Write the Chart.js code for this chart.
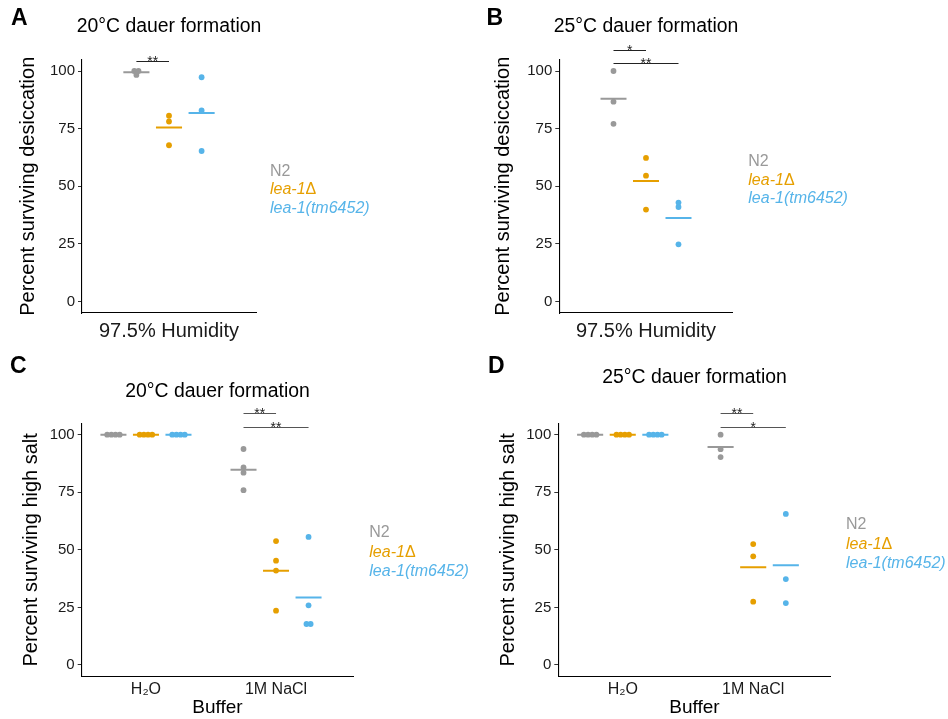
<!DOCTYPE html>
<html>
<head>
<meta charset="utf-8">
<script src="https://cdn.jsdelivr.net/npm/chart.js@4"></script>
<style>
html,body{margin:0;padding:0;background:#fff;width:948px;height:719px;overflow:hidden;position:relative}
canvas{position:absolute}
</style>
</head>
<body>
<canvas id="cA" width="474" height="350" style="left:0;top:0"></canvas>
<canvas id="cB" width="474" height="350" style="left:474px;top:0"></canvas>
<canvas id="cC" width="474" height="364" style="left:0;top:355px"></canvas>
<canvas id="cD" width="474" height="364" style="left:474px;top:355px"></canvas>
<script>
// ---------------- DATA ----------------
const genotypes = ['N2', 'lea-1Δ', 'lea-1(tm6452)'];
const humidityConditions = ['97.5% Humidity'];
const bufferConditions = ['H₂O', '1M NaCl'];
const yTickValues = [0, 25, 50, 75, 100];

// A: 20°C dauer formation, desiccation (97.5% humidity)
const desic20_N2 = [100, 100, 98.3];
const desic20_lea1del = [80.6, 78.1, 67.8];
const desic20_tm6452 = [97.3, 82.9, 65.3];

// B: 25°C dauer formation, desiccation (97.5% humidity)
const desic25_N2 = [100, 86.7, 77.1];
const desic25_lea1del = [62.3, 54.6, 39.9];
const desic25_tm6452 = [42.9, 41.0, 24.8];

// C: 20°C dauer formation, high salt
const salt20_N2_H2O = [100, 100, 100, 100];
const salt20_N2_NaCl = [93.8, 85.8, 83.5, 75.9];
const salt20_lea1del_H2O = [100, 100, 100, 100];
const salt20_lea1del_NaCl = [53.8, 45.3, 41.0, 23.6];
const salt20_tm6452_H2O = [100, 100, 100, 100];
const salt20_tm6452_NaCl = [55.6, 25.9, 17.8, 17.8];

// D: 25°C dauer formation, high salt
const salt25_N2_H2O = [100, 100, 100, 100];
const salt25_N2_NaCl = [100, 93.7, 90.3];
const salt25_lea1del_H2O = [100, 100, 100, 100];
const salt25_lea1del_NaCl = [52.5, 47.2, 27.5];
const salt25_tm6452_H2O = [100, 100, 100, 100];
const salt25_tm6452_NaCl = [65.6, 37.3, 26.9];

// significance comparisons: [group a, group b, condition index, label]
const sigA = [[0, 1, 0, '**']];
const sigB = [[0, 1, 0, '*'], [0, 2, 0, '**']];
const sigC = [[0, 1, 1, '**'], [0, 2, 1, '**']];
const sigD = [[0, 1, 1, '**'], [0, 2, 1, '*']];

// ---------------- STYLE ----------------
const FONT = "'Liberation Sans', Arial, Helvetica, sans-serif";
Chart.defaults.font.family = FONT;
const COLORS = ['#999999', '#E69F00', '#56B4E9'];
const DODGE = [-0.25, 0, 0.25];
const DUP_STEP = 0.032;
const MEAN_HALF = 0.1;

function buildDatasets(series) {
  const ds = [];
  series.forEach((byCond, g) => {
    const pts = [];
    byCond.forEach((vals, c) => {
      const counts = {}, seen = {};
      vals.forEach(v => counts[v] = (counts[v] || 0) + 1);
      vals.forEach(v => {
        seen[v] = seen[v] === undefined ? 0 : seen[v] + 1;
        const n = counts[v];
        pts.push({x: c + 1 + DODGE[g] + (seen[v] - (n - 1) / 2) * DUP_STEP, y: v});
      });
    });
    ds.push({type: 'scatter', data: pts, backgroundColor: COLORS[g], borderWidth: 0,
             pointRadius: 2.9, pointHoverRadius: 2.9, order: 0});
  });
  series.forEach((byCond, g) => byCond.forEach((vals, c) => {
    const m = vals.reduce((a, b) => a + b, 0) / vals.length;
    const x0 = c + 1 + DODGE[g];
    ds.push({type: 'line', showLine: true, data: [{x: x0 - MEAN_HALF, y: m}, {x: x0 + MEAN_HALF, y: m}],
             borderColor: COLORS[g], borderWidth: 2, pointRadius: 0, order: 1});
  }));
  return ds;
}

function drawLegendLabel(ctx, text, x, y) {
  // italic gene name, upright Greek delta
  let cx = x;
  for (const part of text.split(/(Δ)/)) {
    if (!part) continue;
    ctx.font = (part === 'Δ' ? '' : 'italic ') + '16px ' + FONT;
    ctx.fillText(part, cx, y);
    cx += ctx.measureText(part).width;
  }
}

const annotPlugin = {
  id: 'annot',
  afterDraw(chart, args, o) {
    const ctx = chart.ctx, ca = chart.chartArea, xs = chart.scales.x, ys = chart.scales.y;
    ctx.save();
    // panel letter
    ctx.fillStyle = '#000';
    ctx.font = 'bold 23px ' + FONT;
    ctx.textAlign = 'left'; ctx.textBaseline = 'middle';
    ctx.fillText(o.letter, o.letterX, o.letterY);
    // title
    ctx.font = '19.4px ' + FONT;
    ctx.textAlign = 'center';
    ctx.fillText(o.title, (ca.left + ca.right) / 2, o.titleY);
    // legend (text only)
    ctx.textAlign = 'left';
    genotypes.forEach((gname, i) => {
      ctx.fillStyle = COLORS[i];
      if (i === 0) { ctx.font = '16px ' + FONT; ctx.fillText(gname, o.legendX, o.legendY[i]); }
      else drawLegendLabel(ctx, gname, o.legendX, o.legendY[i]);
    });
    // significance brackets
    o.sig.forEach((s, i) => {
      const xa = xs.getPixelForValue(s[2] + 1 + DODGE[s[0]]);
      const xb = xs.getPixelForValue(s[2] + 1 + DODGE[s[1]]);
      const y = Math.round(ys.getPixelForValue(o.sigY[i])) + 0.5;
      ctx.strokeStyle = o.sigColor; ctx.lineWidth = 1.1;
      ctx.beginPath(); ctx.moveTo(xa, y); ctx.lineTo(xb, y); ctx.stroke();
      ctx.fillStyle = '#222';
      ctx.font = '14px ' + FONT;
      ctx.textAlign = 'center'; ctx.textBaseline = 'alphabetic';
      ctx.fillText(s[3], (xa + xb) / 2, y + 4.5);
    });
    ctx.restore();
  }
};

function makePanel(id, p) {
  new Chart(document.getElementById(id), {
    type: 'scatter',
    data: {datasets: buildDatasets(p.series)},
    options: {
      responsive: false, animation: false, events: [],
      layout: {padding: {left: 0, right: p.padRight, top: p.padTop, bottom: 0}},
      plugins: {legend: {display: false}, tooltip: {enabled: false}, title: {display: false},
                annot: p.annot},
      scales: {
        x: {
          type: 'linear', min: p.xMin, max: p.xMax,
          afterBuildTicks: s => { s.ticks = p.conditions.map((c, i) => ({value: i + 1})); },
          afterFit: s => { s.height = p.xh; },
          ticks: {callback: v => p.conditions[Math.round(v) - 1], autoSkip: false, maxRotation: 0,
                  font: {size: p.xTickSize}, color: '#1a1a1a', padding: p.xTickPad},
          grid: {display: false, drawTicks: false},
          border: {display: true, color: '#000', width: 1.1},
          title: p.xTitle ? {display: true, text: p.xTitle, font: {size: 19}, color: '#000',
                             padding: {top: 0, bottom: 0}} : {display: false}
        },
        y: {
          type: 'linear', min: -5, max: 105,
          afterBuildTicks: s => { s.ticks = yTickValues.map(v => ({value: v})); },
          afterFit: s => { s.width = p.yw; },
          ticks: {font: {size: 15}, color: '#1a1a1a', padding: 3},
          grid: {display: true, drawOnChartArea: false, drawTicks: true, tickLength: 4,
                 color: '#333', tickWidth: 1},
          border: {display: true, color: '#000', width: 1.1},
          title: {display: true, text: p.yTitle, font: {size: 20}, color: '#000',
                  padding: {top: p.yTitlePad, bottom: 0}}
        }
      }
    },
    plugins: [annotPlugin]
  });
}

makePanel('cA', {
  series: [[desic20_N2], [desic20_lea1del], [desic20_tm6452]],
  conditions: humidityConditions, xMin: 0.333, xMax: 1.667,
  padRight: 218, padTop: 59.5, yw: 82, xh: 37, xTickSize: 20, xTickPad: 6,
  yTitle: 'Percent surviving desiccation', yTitlePad: 16,
  annot: {letter: 'A', letterX: 11, letterY: 19, title: '20°C dauer formation', titleY: 26.5,
          legendX: 270, legendY: [171.5, 190, 208.5], sig: sigA, sigY: [104.35], sigColor: '#222'}
});
makePanel('cB', {
  series: [[desic25_N2], [desic25_lea1del], [desic25_tm6452]],
  conditions: humidityConditions, xMin: 0.333, xMax: 1.667,
  padRight: 215.3, padTop: 59.5, yw: 85.3, xh: 37, xTickSize: 20, xTickPad: 6,
  yTitle: 'Percent surviving desiccation', yTitlePad: 17.3,
  annot: {letter: 'B', letterX: 12.5, letterY: 19, title: '25°C dauer formation', titleY: 26.7,
          legendX: 274.3, legendY: [161.7, 180.3, 198.5], sig: sigB, sigY: [109.0, 103.5], sigColor: '#222'}
});
makePanel('cC', {
  series: [[salt20_N2_H2O, salt20_N2_NaCl], [salt20_lea1del_H2O, salt20_lea1del_NaCl], [salt20_tm6452_H2O, salt20_tm6452_NaCl]],
  conditions: bufferConditions, xMin: 0.506, xMax: 2.594,
  padRight: 120.7, padTop: 68.2, yw: 81.7, xh: 42.5, xTickSize: 16, xTickPad: 3, xTitle: 'Buffer',
  yTitle: 'Percent surviving high salt', yTitlePad: 19.7,
  annot: {letter: 'C', letterX: 10, letterY: 11.5, title: '20°C dauer formation', titleY: 36.3,
          legendX: 369.3, legendY: [178, 197.3, 216.5], sig: sigC, sigY: [109.3, 103.5], sigColor: '#555'}
});
makePanel('cD', {
  series: [[salt25_N2_H2O, salt25_N2_NaCl], [salt25_lea1del_H2O, salt25_lea1del_NaCl], [salt25_tm6452_H2O, salt25_tm6452_NaCl]],
  conditions: bufferConditions, xMin: 0.506, xMax: 2.594,
  padRight: 117.3, padTop: 68.2, yw: 84.3, xh: 42.5, xTickSize: 16, xTickPad: 3, xTitle: 'Buffer',
  yTitle: 'Percent surviving high salt', yTitlePad: 22.3,
  annot: {letter: 'D', letterX: 14, letterY: 11.5, title: '25°C dauer formation', titleY: 22.5,
          legendX: 372, legendY: [170, 189.3, 208.3], sig: sigD, sigY: [109.3, 103.5], sigColor: '#555'}
});
</script>
</body>
</html>
